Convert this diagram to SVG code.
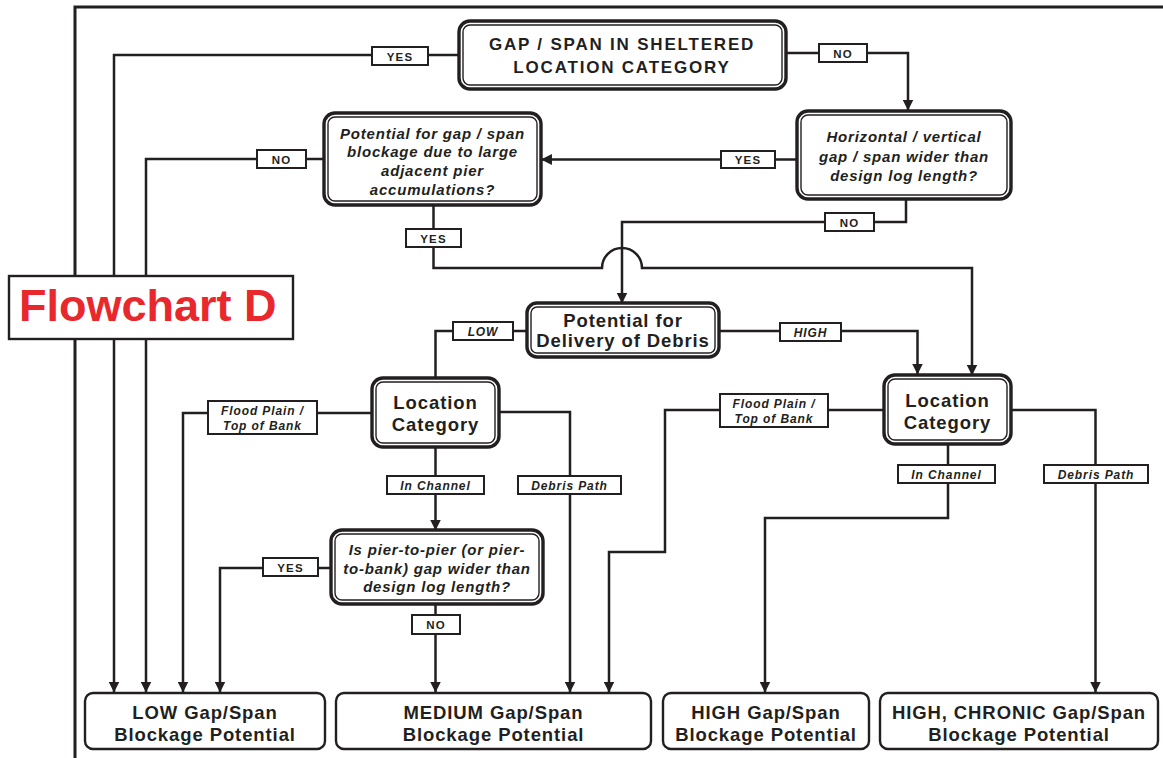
<svg xmlns="http://www.w3.org/2000/svg" width="1163" height="758" viewBox="0 0 1163 758">
  <defs>
    <marker id="arrow" markerUnits="userSpaceOnUse" markerWidth="11" markerHeight="11" viewBox="0 0 10 10" refX="9.5" refY="5" orient="auto">
      <path d="M0,0 L10,5 L0,10 z" fill="#231f20"/>
    </marker>
    <style>
      .frame { fill: none; stroke: #231f20; stroke-width: 3; }
      .edge { fill: none; stroke: #231f20; stroke-width: 2.5; }
      .arr { marker-end: url(#arrow); }
      .outer { fill: #fff; stroke: #231f20; stroke-width: 3.4; }
      .inner { fill: none; stroke: #231f20; stroke-width: 1.4; }
      .result { fill: #fff; stroke: #231f20; stroke-width: 2.4; }
      .tag { fill: #fff; stroke: #231f20; stroke-width: 2; }
      text { font-family: "Liberation Sans", Arial, sans-serif; font-weight: bold; fill: #231f20; text-anchor: middle; }
      .t-head { font-size: 17px; letter-spacing: 1.8px; }
      .t-q { font-size: 15px; font-style: italic; letter-spacing: 0.8px; }
      .t-big { font-size: 18.5px; letter-spacing: 0.9px; }
      .t-tag { font-size: 11.5px; letter-spacing: 1.2px; }
      .t-tagi { font-size: 12px; font-style: italic; letter-spacing: 0.9px; }
      .t-title { font-size: 45px; fill: #e8282c; text-anchor: start; }
    </style>
  </defs>

  <rect width="1163" height="758" fill="#fff"/>

  <!-- page frame -->
  <path class="frame" d="M75,758 V7 H1163"/>

  <!-- connectors -->
  <g id="connectors">
    <path class="edge arr" d="M459,55 H114 V692"/>
    <path class="edge arr" d="M786,53 H908 V110"/>
    <path class="edge arr" d="M797,159.5 H541.5"/>
    <path class="edge arr" d="M324,159 H146 V692"/>
    <path class="edge arr" d="M906,199 V222 H622 V303"/>
    <path class="edge arr" d="M433.5,205 V268 H602 A20,20 0 0 1 642,268 H972 V375"/>
    <path class="edge" d="M527,331 H435.5 V378"/>
    <path class="edge arr" d="M719,331 H917.5 V374"/>
    <path class="edge arr" d="M372,413 H183 V692"/>
    <path class="edge arr" d="M499,412 H570 V692"/>
    <path class="edge arr" d="M435.5,447 V530"/>
    <path class="edge arr" d="M331,568 H220 V692"/>
    <path class="edge arr" d="M435.5,604 V692"/>
    <path class="edge arr" d="M884,410 H665 V552 H609 V692"/>
    <path class="edge arr" d="M948,444 V518 H765 V692"/>
    <path class="edge arr" d="M1011,410 H1095.5 V692"/>
  </g>

  <!-- connector labels -->
  <g id="edge-labels">
    <rect class="tag" x="372" y="47" width="56" height="18"/>
    <text class="t-tag" x="400" y="60.5">YES</text>
    <rect class="tag" x="819" y="44" width="48" height="18"/>
    <text class="t-tag" x="843" y="57.5">NO</text>
    <rect class="tag" x="721" y="151" width="54" height="17"/>
    <text class="t-tag" x="748" y="164">YES</text>
    <rect class="tag" x="257" y="150" width="49" height="18"/>
    <text class="t-tag" x="281.5" y="163.5">NO</text>
    <rect class="tag" x="825" y="213" width="49" height="18"/>
    <text class="t-tag" x="849.5" y="226.5">NO</text>
    <rect class="tag" x="406" y="229" width="55" height="18"/>
    <text class="t-tag" x="433.5" y="242.5">YES</text>
    <rect class="tag" x="453" y="322" width="60" height="18"/>
    <text class="t-tagi" x="483" y="335.5">LOW</text>
    <rect class="tag" x="780" y="323" width="61" height="18"/>
    <text class="t-tagi" x="810.5" y="336.5">HIGH</text>
    <rect class="tag" x="208" y="401" width="109" height="33"/>
    <text class="t-tagi" x="262.5" y="415">Flood Plain /</text>
    <text class="t-tagi" x="262.5" y="429.5">Top of Bank</text>
    <rect class="tag" x="387" y="476" width="97" height="18"/>
    <text class="t-tagi" x="435.5" y="489.5">In Channel</text>
    <rect class="tag" x="518" y="476" width="103" height="18"/>
    <text class="t-tagi" x="569.5" y="489.5">Debris Path</text>
    <rect class="tag" x="263" y="558" width="55" height="18"/>
    <text class="t-tag" x="290.5" y="571.5">YES</text>
    <rect class="tag" x="412" y="615" width="48" height="19"/>
    <text class="t-tag" x="436" y="629">NO</text>
    <rect class="tag" x="720" y="394" width="108" height="33"/>
    <text class="t-tagi" x="774" y="408">Flood Plain /</text>
    <text class="t-tagi" x="774" y="422.5">Top of Bank</text>
    <rect class="tag" x="898" y="465" width="97" height="18"/>
    <text class="t-tagi" x="946.5" y="478.5">In Channel</text>
    <rect class="tag" x="1044" y="465" width="104" height="18"/>
    <text class="t-tagi" x="1096" y="478.5">Debris Path</text>
  </g>

  <!-- decision nodes -->
  <g id="node-sheltered">
    <rect class="outer" x="459" y="21" width="327" height="68" rx="11"/>
    <rect class="inner" x="463" y="25" width="319" height="60" rx="7"/>
    <text class="t-head" x="622" y="50">GAP / SPAN IN SHELTERED</text>
    <text class="t-head" x="622" y="73">LOCATION CATEGORY</text>
  </g>

  <g id="node-span-width">
    <rect class="outer" x="797" y="111" width="214" height="88" rx="11"/>
    <rect class="inner" x="801" y="115" width="206" height="80" rx="7"/>
    <text class="t-q" x="904" y="142">Horizontal / vertical</text>
    <text class="t-q" x="904" y="161.5">gap / span wider than</text>
    <text class="t-q" x="904" y="181">design log length?</text>
  </g>

  <g id="node-adjacent-pier">
    <rect class="outer" x="324" y="113" width="217" height="92" rx="11"/>
    <rect class="inner" x="328" y="117" width="209" height="84" rx="7"/>
    <text class="t-q" x="432.5" y="138.5">Potential for gap / span</text>
    <text class="t-q" x="432.5" y="157">blockage due to large</text>
    <text class="t-q" x="432.5" y="176">adjacent pier</text>
    <text class="t-q" x="432.5" y="194.5">accumulations?</text>
  </g>

  <g id="node-debris-delivery">
    <rect class="outer" x="527" y="303" width="192" height="54" rx="10"/>
    <rect class="inner" x="531" y="307" width="184" height="46" rx="6"/>
    <text class="t-big" x="623" y="327">Potential for</text>
    <text class="t-big" x="623" y="347">Delivery of Debris</text>
  </g>

  <g id="node-location-low">
    <rect class="outer" x="372" y="378" width="127" height="69" rx="11"/>
    <rect class="inner" x="376" y="382" width="119" height="61" rx="7"/>
    <text class="t-big" x="435.5" y="408.5">Location</text>
    <text class="t-big" x="435.5" y="431">Category</text>
  </g>

  <g id="node-location-high">
    <rect class="outer" x="884" y="375" width="127" height="69" rx="11"/>
    <rect class="inner" x="888" y="379" width="119" height="61" rx="7"/>
    <text class="t-big" x="947.5" y="406.5">Location</text>
    <text class="t-big" x="947.5" y="428.5">Category</text>
  </g>

  <g id="node-pier-gap">
    <rect class="outer" x="331" y="530" width="212" height="74" rx="11"/>
    <rect class="inner" x="335" y="534" width="204" height="66" rx="7"/>
    <text class="t-q" x="437" y="555">Is pier-to-pier (or pier-</text>
    <text class="t-q" x="437" y="573.5">to-bank) gap wider than</text>
    <text class="t-q" x="437" y="592">design log length?</text>
  </g>

  <!-- outcome nodes -->
  <g id="result-low">
    <rect class="result" x="85" y="693" width="240" height="56" rx="8"/>
    <text class="t-big" x="205" y="719">LOW Gap/Span</text>
    <text class="t-big" x="205" y="740.5">Blockage Potential</text>
  </g>
  <g id="result-medium">
    <rect class="result" x="336" y="693" width="315" height="56" rx="8"/>
    <text class="t-big" x="493.5" y="719">MEDIUM Gap/Span</text>
    <text class="t-big" x="493.5" y="740.5">Blockage Potential</text>
  </g>
  <g id="result-high">
    <rect class="result" x="663" y="693" width="206" height="56" rx="8"/>
    <text class="t-big" x="766" y="719">HIGH Gap/Span</text>
    <text class="t-big" x="766" y="740.5">Blockage Potential</text>
  </g>
  <g id="result-chronic">
    <rect class="result" x="880" y="693" width="278" height="56" rx="8"/>
    <text class="t-big" x="1019" y="719">HIGH, CHRONIC Gap/Span</text>
    <text class="t-big" x="1019" y="740.5">Blockage Potential</text>
  </g>

  <!-- title plate -->
  <g id="title">
    <rect x="9" y="276" width="284" height="63" fill="#fff" stroke="#231f20" stroke-width="2.4"/>
    <text class="t-title" x="19" y="321">Flowchart D</text>
  </g>
</svg>
